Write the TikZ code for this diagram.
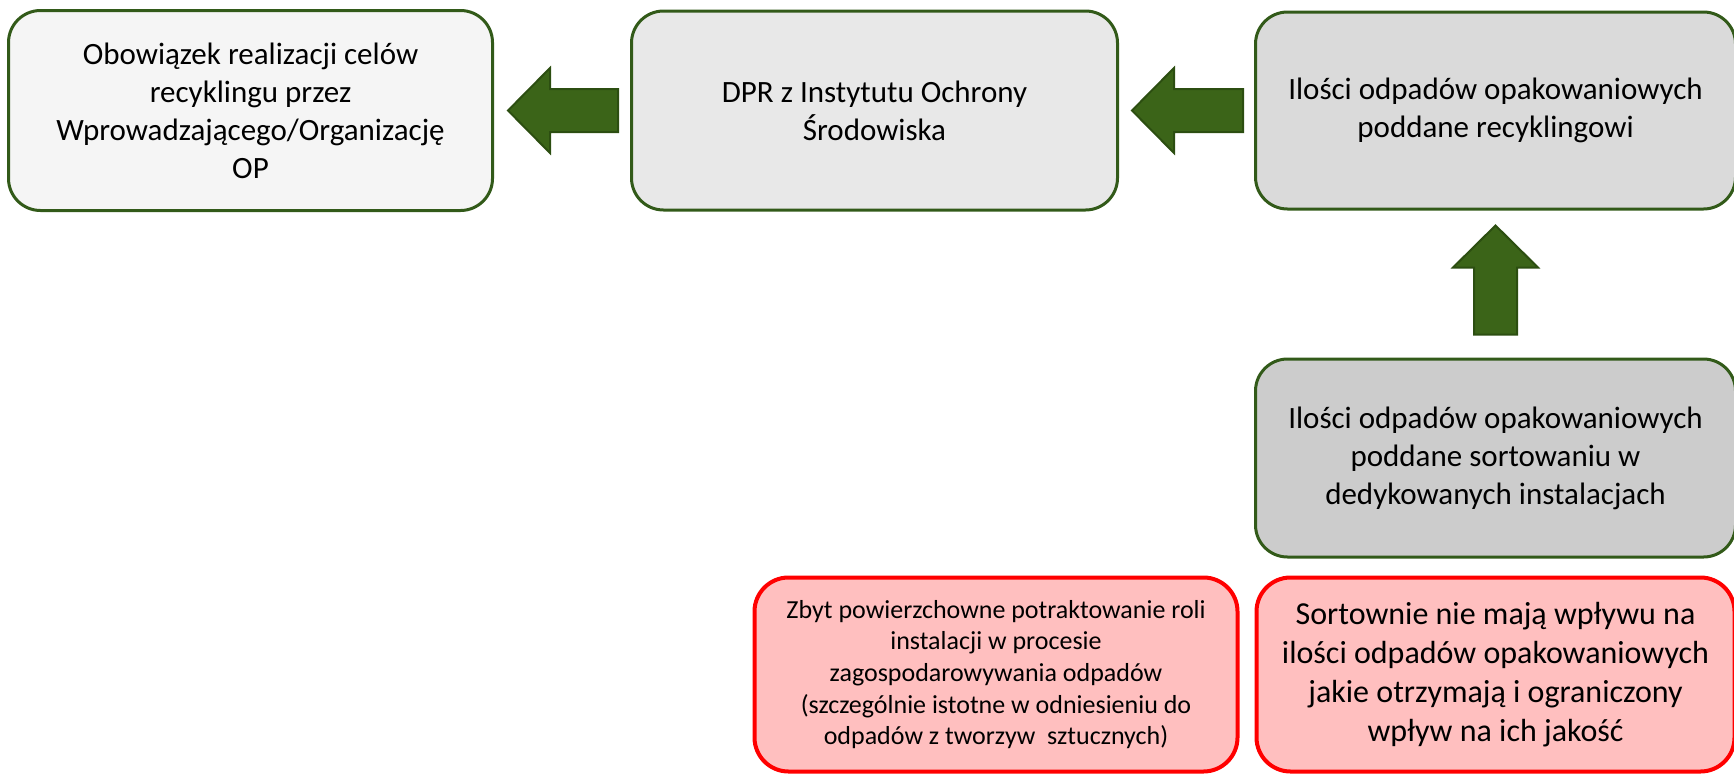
\documentclass[tikz,border=0pt]{standalone}
\usepackage{fontspec}
\setmainfont{Carlito}
\usetikzlibrary{calc, positioning}

\definecolor{boxgreen}{RGB}{50,90,25}
\definecolor{arrowfill}{RGB}{59,100,24}
\definecolor{arrowedge}{RGB}{44,78,17}
\definecolor{pinkfill}{RGB}{255,191,191}
\definecolor{grayA}{RGB}{245,245,245}
\definecolor{grayB}{RGB}{232,232,232}
\definecolor{grayC}{RGB}{218,218,218}
\definecolor{grayD}{RGB}{204,204,204}

\tikzset{
  fat arrow/.style = {draw = arrowedge, fill = arrowfill, line width = 1pt,
    to path = {
      ($(\tikztostart)!10.75pt!90:(\tikztotarget)$)
      -- ($(\tikztotarget)!21pt!(\tikztostart)!10.75pt!-90:(\tikztostart)$)
      -- ($(\tikztotarget)!21pt!(\tikztostart)!21.25pt!-90:(\tikztostart)$)
      -- (\tikztotarget)
      -- ($(\tikztotarget)!21pt!(\tikztostart)!21.25pt!90:(\tikztostart)$)
      -- ($(\tikztotarget)!21pt!(\tikztostart)!10.75pt!90:(\tikztostart)$)
      -- ($(\tikztostart)!10.75pt!-90:(\tikztotarget)$)
      -- cycle}}
}

\begin{document}
\begin{tikzpicture}[
  x = 0.5pt, y = -0.5pt,
  box/.style = {draw = boxgreen, line width = 1.5pt, rounded corners = 16pt,
    align = center, inner sep = 0pt, font = \fontsize{15.5}{19}\selectfont},
  redbox/.style = {box, draw = red, fill = pinkfill, line width = 2pt,
    rounded corners = 17pt}
]
\useasboundingbox (0,0) rectangle (1734,777);

% top row
\node[box, fill = grayA, minimum width = 242pt, minimum height = 100pt]
  (duty) at (250.5,110.5)
  {Obowiązek realizacji celów\\recyklingu przez\\Wprowadzającego/Organizację\\OP};
\node[box, fill = grayB, minimum width = 243pt, minimum height = 99.5pt,
  right = 68pt of duty] (dpr)
  {DPR z Instytutu Ochrony\\Środowiska};
\node[box, fill = grayC, minimum width = 240pt, minimum height = 98.5pt,
  right = 67.5pt of dpr] (recycled)
  {Ilości odpadów opakowaniowych\\poddane recyklingowi};

% right column
\node[box, fill = grayD, minimum width = 240pt, minimum height = 99pt,
  below = 73.5pt of recycled] (sorted)
  {Ilości odpadów opakowaniowych\\poddane sortowaniu w\\dedykowanych instalacjach};

% problems
\node[redbox, minimum width = 239pt, minimum height = 97pt,
  font = \fontsize{16}{19.5}\selectfont, below = 8.5pt of sorted] (noinfl)
  {Sortownie nie mają wpływu na\\ilości odpadów opakowaniowych\\jakie otrzymają i ograniczony\\wpływ na ich jakość};
\node[redbox, minimum width = 241.5pt, minimum height = 97pt,
  font = \fontsize{13}{15.8}\selectfont, left = 7.5pt of noinfl] (shallow)
  {Zbyt powierzchowne potraktowanie roli\\instalacji w procesie\\zagospodarowywania odpadów\\(szczególnie istotne w odniesieniu do\\odpadów z tworzyw\ \ sztucznych)};

% arrows
\coordinate (a1t) at ($(duty.east)+(14,0)$);
\coordinate (a1s) at ($(a1t -| dpr.west)+(-12,0)$);
\coordinate (a2t) at ($(a1t -| dpr.east)+(13,0)$);
\coordinate (a2s) at ($(a1t -| recycled.west)+(-11,0)$);
\coordinate (a3t) at ($(recycled.south)+(0,15)$);
\coordinate (a3s) at ($(sorted.north)+(0,-23)$);

\draw[fat arrow] (a1s) to (a1t);
\draw[fat arrow] (a2s) to (a2t);
\draw[fat arrow] (a3s) to (a3t);

\end{tikzpicture}
\end{document}
